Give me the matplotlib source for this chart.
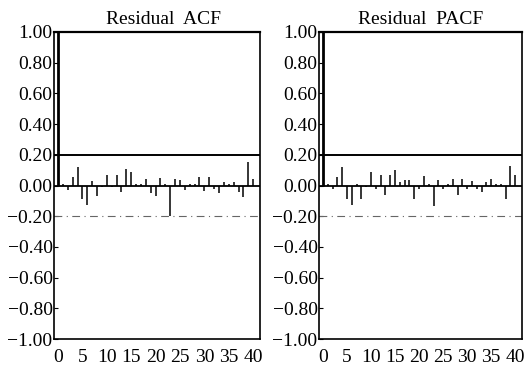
import matplotlib
matplotlib.use("Agg")
import matplotlib.pyplot as plt
import numpy as np

lags = list(range(0, 41))
acf_vals = [1.0, 0.01, -0.03, 0.055, 0.12, -0.09, -0.13, 0.03, -0.07, -0.01,
            0.07, -0.01, 0.07, -0.045, 0.105, 0.085, 0.012, 0.01, 0.04, -0.05,
            -0.07, 0.05, 0.01, -0.20, 0.045, 0.035, -0.03, 0.01, 0.01, 0.055,
            -0.035, 0.055, -0.02, -0.05, 0.02, 0.01, 0.025, -0.045, -0.075, 0.15,
            0.04]
pacf_vals = [1.0, 0.01, -0.025, 0.055, 0.12, -0.09, -0.13, 0.01, -0.085, -0.01,
             0.09, -0.025, 0.07, -0.06, 0.07, 0.10, 0.02, 0.035, 0.035, -0.09,
             -0.02, 0.06, 0.01, -0.135, 0.035, -0.02, 0.01, 0.04, -0.06, 0.04,
             -0.025, 0.03, -0.02, -0.045, 0.02, 0.04, 0.01, 0.01, -0.09, 0.13,
             0.07]
titles = ["Residual  ACF", "Residual  PACF"]
conf = 0.20
yticks = [1.0, 0.8, 0.6, 0.4, 0.2, 0.0, -0.2, -0.4, -0.6, -0.8, -1.0]
xticks = [0, 5, 10, 15, 20, 25, 30, 35, 40]

plt.rcParams['font.family'] = ['Liberation Serif', 'DejaVu Serif']
plt.rcParams['axes.unicode_minus'] = True

W, H = 525, 368
fig = plt.figure(figsize=(W / 100, H / 100), dpi=100)

ax_pos = [(54, 32, 206, 307), (319, 32, 203, 307)]
series = [acf_vals, pacf_vals]
title_offsets = [7, 0]

for (x0, y0, w, h), vals, title, toff in zip(ax_pos, series, titles, title_offsets):
    ax = fig.add_axes([x0 / W, (H - y0 - h) / H, w / W, h / H])
    ax.vlines(lags[1:], 0, vals[1:], color='black', lw=1.1)
    ax.vlines(lags[0], 0, vals[0], color='black', lw=2.0)
    ax.axhline(0, color='black', lw=1.3)
    ax.axhline(conf, color='black', lw=1.4)
    ax.axhline(-conf, color='#666666', lw=0.8, ls=(0, (7, 4, 1, 4)))
    ax.set_xlim(-0.82, 41.4)
    ax.set_ylim(-1.0, 1.0)
    ax.set_yticks(yticks)
    ax.set_yticklabels([f"{v:.2f}".replace('-', '\u2212') for v in yticks])
    ax.set_xticks(xticks)
    ax.set_xticklabels([str(v) for v in xticks])
    ax.tick_params(axis='y', direction='in', length=3, pad=1, labelsize=14, width=0.8)
    ax.tick_params(axis='x', direction='in', length=0, pad=7, labelsize=14)
    for s in ax.spines.values():
        s.set_linewidth(1.2)
    ax.spines['top'].set_linewidth(1.6)
    ax.text(0.5 + toff / w, 1.012, title, transform=ax.transAxes, ha='center',
            va='bottom', fontsize=14)

fig.savefig("out.png", dpi=100)
